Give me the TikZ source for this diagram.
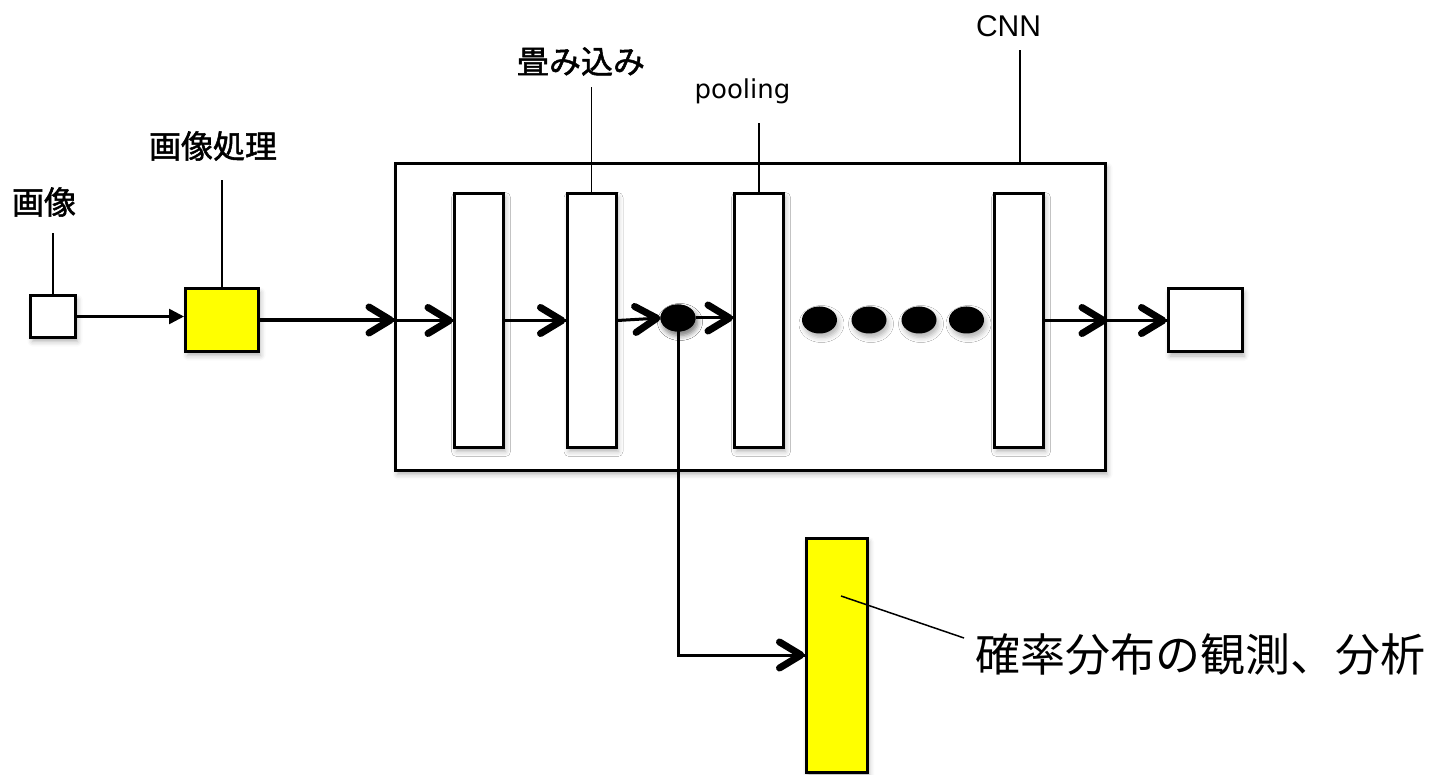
\documentclass[tikz,border=0pt]{standalone}
\usepackage{fontspec}
\newfontfamily\jp{Noto Sans CJK JP}
\newfontfamily\jpb[FakeBold=1.6]{Noto Sans CJK JP}
\newfontfamily\poolfont{DejaVu Sans}
\newfontfamily\cnnfont{Liberation Sans}
\usetikzlibrary{arrows.meta,shapes.geometric,shadows.blur,decorations.markings}
\definecolor{yel}{HTML}{FFFF00}
\begin{document}
\begin{tikzpicture}[x=1pt,y=-1pt,
  shad/.style={blur shadow={shadow xshift=2pt,shadow yshift=-4pt,shadow blur radius=5pt,shadow opacity=30}},
  box/.style={draw=black, line width=3pt, fill=white, inner sep=0pt, shad},
  ybox/.style={box, fill=yel},
  bar/.style={box, minimum width=49pt, minimum height=254pt},
  dotn/.style={ellipse, fill=black, inner sep=0pt, minimum width=35pt, minimum height=27pt, shad},
  lead/.style={line width=1.5pt},
  chev/.style={postaction={decorate, decoration={markings,
      mark=at position 1 with {\draw[line width=7pt, line cap=round, line join=round]
        (-25pt,-13pt) -- (-3.5pt,0pt) -- (-25pt,13pt);}}}},
  conn/.style={line width=3pt, chev},
  thinarr/.style={line width=2.5pt, -{Triangle[length=15pt,width=15pt]}},
  jlab/.style={font=\jpb\fontsize{32}{36}\selectfont, inner sep=0pt},
]
\useasboundingbox (0,0) rectangle (1443,775);

% boxes
\node[box, minimum width=45pt, minimum height=42pt] (img) at (53,316.5) {};
\node[ybox, minimum width=73pt, minimum height=63pt] (proc) at (222,320) {};
\node[box, minimum width=710pt, minimum height=307pt] (cnn) at (750.5,317) {};
\node[bar] (bar1) at (479,320.5) {};
\node[bar] (bar2) at (591.5,320.5) {};
\node[bar] (bar3) at (759,320.5) {};
\node[bar] (bar4) at (1019,320.5) {};
\node[box, minimum width=74pt, minimum height=63pt] (out) at (1205,320.5) {};
\node[ybox, minimum width=61pt, minimum height=234pt] (ybar) at (836.5,655) {};

% dots
\node[dotn] (d0) at (678,318) {};
\node[dotn] (d1) at (819.5,320) {};
\node[dotn] (d2) at (869,320) {};
\node[dotn] (d3) at (919,320) {};
\node[dotn] (d4) at (966.5,320) {};

% labels
\node[jlab] (limg) at (44,202) {画像};
\node[jlab] (lproc) at (213,146) {画像処理};
\node[jlab] (lconv) at (581,61.5) {畳み込み};
\node[inner sep=0pt, font=\poolfont\fontsize{26}{30}\selectfont] (lpool) at (742.5,91.5) {pooling};
\node[inner sep=0pt, font=\cnnfont\fontsize{30}{34}\selectfont] (lcnn) at (1008.5,26.5) {CNN};
\node[inner sep=0pt, anchor=west, font=\jp\fontsize{45}{50}\selectfont] (prob) at (975,654) {確率分布の観測、分析};

% leader lines
\draw[lead] (img.north) -- ++(0,-61);
\draw[lead] (proc.north) -- ++(0,-107);
\draw[lead] (bar2.north) -- ++(0,-105);
\draw[lead] (bar3.north) -- ++(0,-69);
\coordinate (cnnT) at ([xshift=269.5pt]cnn.north);
\draw[lead] (cnnT) -- ++(0,-112);
\coordinate (pa) at (841,596);
\coordinate (pb) at (964,638);
\draw[lead] (pa) -- (pb);

% connectors
\draw[thinarr] (img.east) -- (img.east -| proc.west);
\draw[conn, line width=4pt] (proc.east) -- (proc.east -| cnn.west);
\draw[conn] (cnn.west |- bar1.west) -- (bar1.west);
\draw[conn] (bar1.east) -- (bar2.west);
\draw[conn] (bar2.east) -- (d0.west);
\draw[conn] (d0.east) -- (d0.east -| bar3.west);
\draw[conn] (bar4.east) -- (bar4.east -| cnn.east);
\draw[conn] (bar4.east -| cnn.east) -- (out.west);
\draw[conn] (d0.center) |- (ybar.west);
\node[dotn] at (d0) {};
\end{tikzpicture}
\end{document}
